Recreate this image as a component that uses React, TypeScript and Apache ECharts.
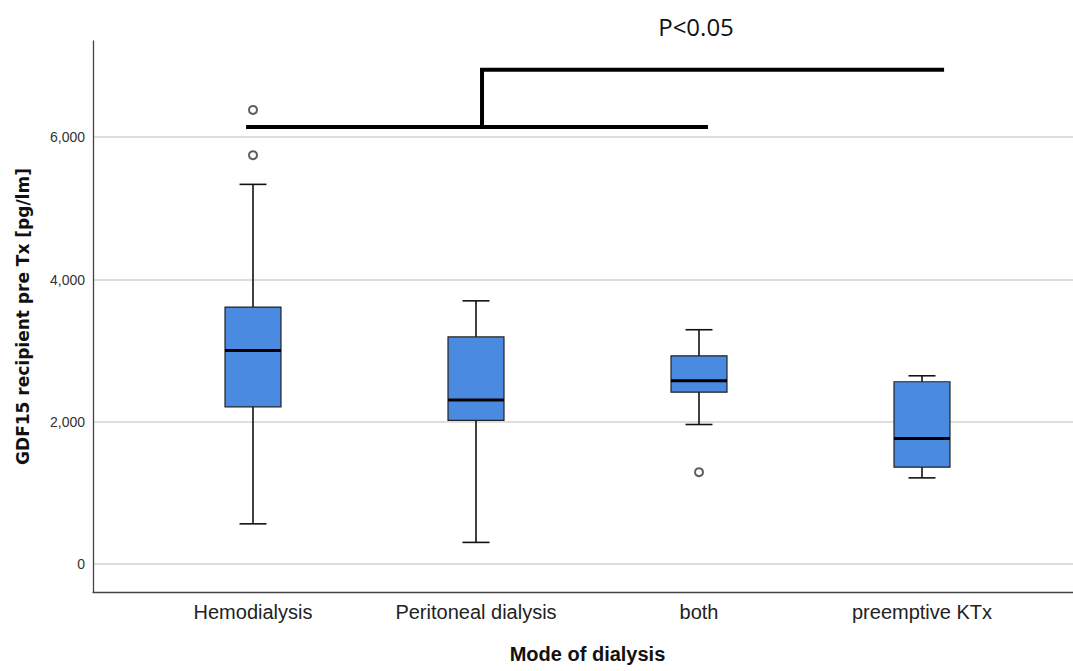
import React, { useEffect, useRef } from "react";
import * as echarts from "echarts";

const categories = ["Hemodialysis", "Peritoneal dialysis", "both", "preemptive KTx"];
const whiskerLow = [566, 305, 1962, 1212];
const quartile1 = [2210, 2021, 2417, 1362];
const medians = [3003, 2307, 2577, 1766];
const quartile3 = [3612, 3193, 2928, 2563];
const whiskerHigh = [5337, 3700, 3294, 2647];
const outliers: [number, number][] = [
  [0, 5747],
  [0, 6383],
  [2, 1292],
];
// significance bracket (x in category-index units, y in pg/ml)
const bracketLow: [number, number][] = [
  [-0.031, 6143],
  [2.04, 6143],
];
const bracketHigh: [number, number][] = [
  [1.027, 6143],
  [1.027, 6949],
  [3.099, 6949],
];
const pText = "P<0.05";
const yTitle = "GDF15 recipient pre Tx [pg/lm]";
const xTitle = "Mode of dialysis";
const yMin = -392;
const yMax = 7352;

const ARIAL = "'Liberation Sans', Arial, sans-serif";

export default function App() {
  const ref = useRef<HTMLDivElement>(null);
  useEffect(() => {
    if (!ref.current) return;
    const chart = echarts.init(ref.current, null, { renderer: "svg" });
    const boxData = categories.map((_, i) => [
      i,
      whiskerLow[i],
      quartile1[i],
      medians[i],
      quartile3[i],
      whiskerHigh[i],
    ]);
    const option: any = {
      animation: false,
      backgroundColor: "#ffffff",
      grid: [
        { left: 93, top: 41, right: 0, height: 551 },
        { left: 141.5, top: 41, width: 892, height: 551 },
      ],
      xAxis: [
        {
          gridIndex: 0,
          type: "value",
          min: 0,
          max: 1,
          axisLine: { show: true, onZero: false, lineStyle: { color: "#444", width: 1.3 } },
          axisTick: { show: false },
          axisLabel: { show: false },
          splitLine: { show: false },
        },
        {
          gridIndex: 1,
          type: "category",
          data: categories,
          axisLine: { show: false, onZero: false },
          axisTick: { show: false },
          axisLabel: {
            margin: 10,
            fontSize: 20,
            fontFamily: ARIAL,
            color: "#222",
          },
          splitLine: { show: false },
          name: xTitle,
          nameLocation: "middle",
          nameGap: 52,
          nameTextStyle: {
            fontSize: 20,
            fontWeight: "bold",
            fontFamily: ARIAL,
            color: "#111",
          },
        },
        {
          gridIndex: 1,
          type: "value",
          min: -0.5,
          max: 3.5,
          show: false,
        },
      ],
      yAxis: [
        {
          gridIndex: 0,
          type: "value",
          min: yMin,
          max: yMax,
          axisLine: { show: true, onZero: false, lineStyle: { color: "#444", width: 1.3 } },
          axisTick: { show: false },
          axisLabel: {
            margin: 8,
            fontSize: 14,
            fontFamily: ARIAL,
            color: "#333",
            showMinLabel: false,
            showMaxLabel: false,
            formatter: (v: number) =>
              v % 2000 === 0 ? v.toLocaleString("en-US") : "",
          },
          splitLine: {
            show: true,
            showMinLine: false,
            showMaxLine: false,
            lineStyle: { color: "#d3d3d3", width: 1.5 },
          },
          name: yTitle,
          nameLocation: "middle",
          nameGap: 62,
          nameTextStyle: {
            fontSize: 17,
            fontWeight: "bold",
            fontFamily: "'DejaVu Sans', sans-serif",
            color: "#111",
          },
        },
        {
          gridIndex: 1,
          type: "value",
          min: yMin,
          max: yMax,
          show: false,
        },
      ],
      series: [
        {
          type: "custom",
          xAxisIndex: 1,
          yAxisIndex: 1,
          data: boxData,
          encode: { x: 0, y: [1, 2, 3, 4, 5] },
          renderItem: (params: any, api: any) => {
            const xi = api.value(0);
            const lo = api.coord([xi, api.value(1)]);
            const q1 = api.coord([xi, api.value(2)]);
            const md = api.coord([xi, api.value(3)]);
            const q3 = api.coord([xi, api.value(4)]);
            const hi = api.coord([xi, api.value(5)]);
            const band = api.size([1, 0])[0];
            const bw = band * 0.251;
            const cw = band * 0.121;
            const cx = lo[0];
            const stroke = "#111";
            return {
              type: "group",
              children: [
                {
                  type: "line",
                  shape: { x1: cx, y1: hi[1], x2: cx, y2: lo[1] },
                  style: { stroke, lineWidth: 1.6 },
                },
                {
                  type: "line",
                  shape: { x1: cx - cw / 2, y1: hi[1], x2: cx + cw / 2, y2: hi[1] },
                  style: { stroke, lineWidth: 1.6 },
                },
                {
                  type: "line",
                  shape: { x1: cx - cw / 2, y1: lo[1], x2: cx + cw / 2, y2: lo[1] },
                  style: { stroke, lineWidth: 1.6 },
                },
                {
                  type: "rect",
                  shape: { x: cx - bw / 2, y: q3[1], width: bw, height: q1[1] - q3[1] },
                  style: { fill: "#4a8ae0", stroke: "#222", lineWidth: 1.2 },
                },
                {
                  type: "line",
                  shape: { x1: cx - bw / 2, y1: md[1], x2: cx + bw / 2, y2: md[1] },
                  style: { stroke: "#000", lineWidth: 3 },
                },
              ],
            };
          },
          z: 2,
        },
        {
          type: "scatter",
          xAxisIndex: 1,
          yAxisIndex: 1,
          data: outliers,
          symbol: "emptyCircle",
          symbolSize: 8,
          itemStyle: { color: "#333", borderColor: "#333", borderWidth: 1.3 },
          z: 3,
        },
        {
          type: "line",
          xAxisIndex: 2,
          yAxisIndex: 1,
          data: bracketLow,
          symbol: "none",
          lineStyle: { color: "#000", width: 4 },
          z: 4,
        },
        {
          type: "line",
          xAxisIndex: 2,
          yAxisIndex: 1,
          data: bracketHigh,
          symbol: "none",
          lineStyle: { color: "#000", width: 4, join: "miter" },
          z: 4,
        },
      ],
      graphic: [
        {
          type: "text",
          x: 696,
          y: 26,
          style: {
            text: pText,
            fontSize: 24,
            fontFamily: "'Open Sans', sans-serif",
            fill: "#111",
            textAlign: "center",
            textVerticalAlign: "middle",
          },
        },
      ],
    };
    chart.setOption(option);
    return () => chart.dispose();
  }, []);
  return (
    <div
      ref={ref}
      style={{ position: "absolute", left: 0, top: 0, width: 1073, height: 671, background: "#fff" }}
    />
  );
}
